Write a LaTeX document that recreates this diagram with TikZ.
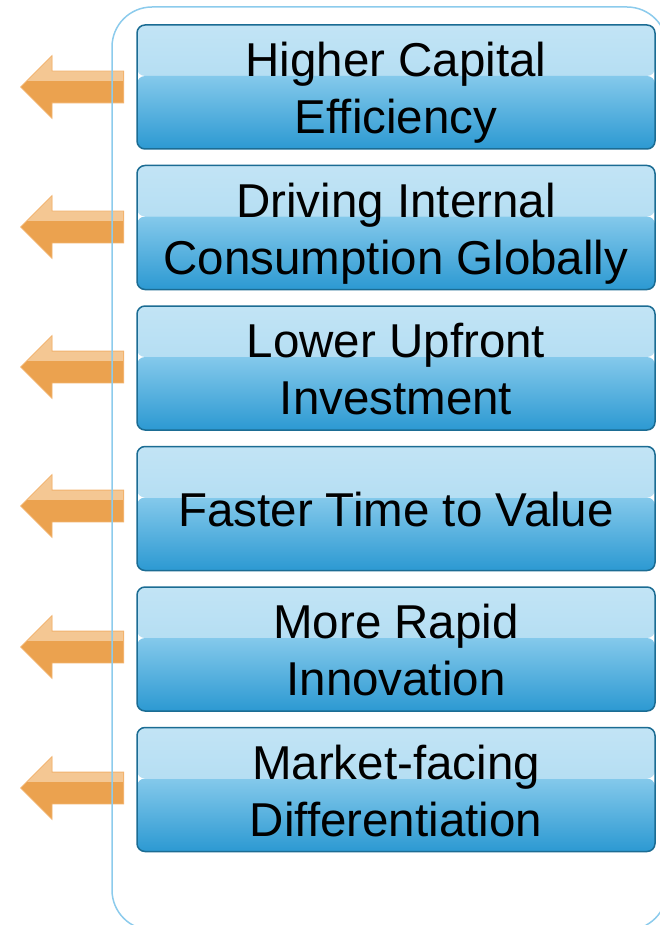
\documentclass[tikz,border=0pt]{standalone}
\usepackage{fontspec}
\setmainfont{Liberation Sans}
\usetikzlibrary{positioning,calc,shapes.arrows}
\definecolor{boxedge}{HTML}{1B6C93}
\definecolor{glossA}{HTML}{C2E4F5}
\definecolor{glossB}{HTML}{A3D6F0}
\definecolor{glossC}{HTML}{84C9EB}
\definecolor{glossD}{HTML}{2C99D2}
\definecolor{framecol}{HTML}{8CCBEC}
\definecolor{arrowfill}{HTML}{EBA24F}
\definecolor{arrowlight}{HTML}{F4C793}
\definecolor{arrowedge}{HTML}{F2B36E}
\tikzset{benefit/.style={
    draw=boxedge, line width=1.5pt, rounded corners=8pt,
    minimum width=518pt, minimum height=124pt, align=center,
    text height=103pt, text depth=10pt,
    font=\fontsize{47.5}{57}\selectfont,
    path picture={
        \shade[top color=glossA,bottom color=glossB]
            (path picture bounding box.north west) rectangle ($(path picture bounding box.north east)+(0,-51pt)$);
        \shade[top color=glossC,bottom color=glossD]
            ($(path picture bounding box.north west)+(0,-51pt)$) rectangle (path picture bounding box.south east);
        }
    },
    oneline/.style={text height=46pt},
    backarrow/.style={
    single arrow, shape border rotate=180, anchor=tail,
    draw=arrowedge, line width=0.8pt, fill=arrowfill,
    minimum height=103pt, inner xsep=0pt, inner ysep=15.5pt,
    single arrow head extend=15.5pt, single arrow tip angle=90,
    path picture={
        \fill[arrowlight] (path picture bounding box.north west) rectangle ($(path picture bounding box.east)+(0,6pt)$);
        }
    },
    frame/.style={draw=framecol, line width=1.5pt, rounded corners=40pt}
}

\begin{document}
\begin{tikzpicture}[x=1pt,y=-1pt]
	\useasboundingbox (0,0) rectangle (660,925);
	\node[backarrow] (A1) at (124,87) {};
	\node[backarrow] (A2) at (124,227) {};
	\node[backarrow] (A3) at (124,367) {};
	\node[backarrow] (A4) at (124,506) {};
	\node[backarrow] (A5) at (124,647) {};
	\node[backarrow] (A6) at (124,788) {};
	\draw[frame] (112,7) rectangle (667,930);
	\node[benefit] (B1) at (396,87) {Higher Capital\\Efficiency};
	\node[benefit] (B2) at (396,227.5) {Driving Internal\\Consumption Globally};
	\node[benefit] (B3) at (396,368) {Lower Upfront\\Investment};
	\node[benefit,oneline] (B4) at (396,508.5) {Faster Time to Value};
	\node[benefit] (B5) at (396,649) {More Rapid\\Innovation};
	\node[benefit] (B6) at (396,789.5) {Market-facing\\Differentiation};
\end{tikzpicture}
\end{document}
